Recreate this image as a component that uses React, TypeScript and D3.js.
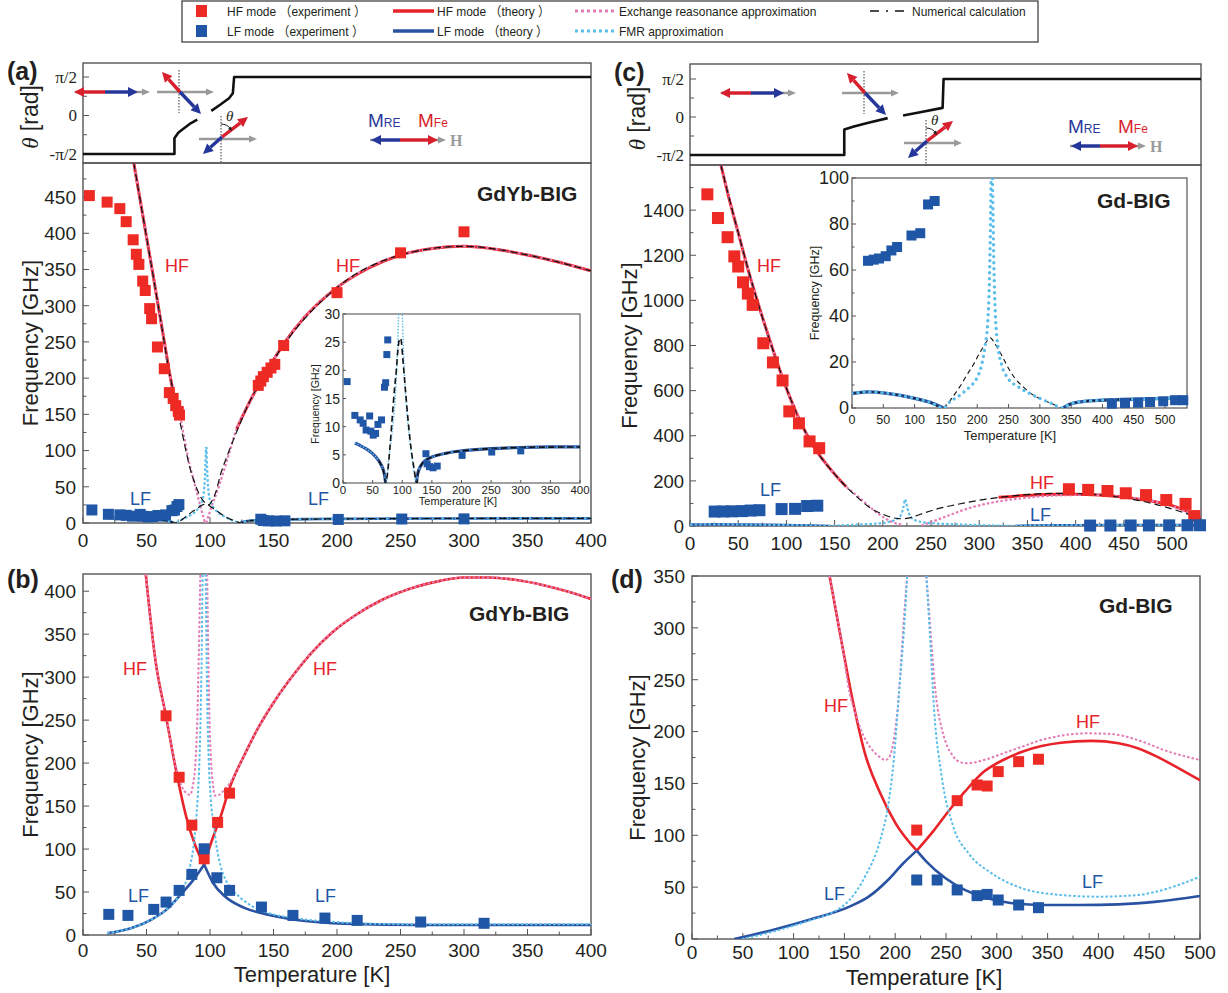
import React from 'react';
import * as d3 from 'd3';

type P = [number, number];

// ================= legend =================
const legendRow1 = ['HF mode （experiment ）', 'HF mode （theory ）', 'Exchange reasonance approximation', 'Numerical calculation'];
const legendRow2 = ['LF mode （experiment ）', 'LF mode （theory ）', 'FMR approximation'];

// ================= ticks =================
const thetaTicks = [-1, 0, 1];
const thetaMinor = [-0.5, 0.5];
const thetaLabels = ['-π/2', '0', 'π/2'];
const t400 = [0, 50, 100, 150, 200, 250, 300, 350, 400];
const t400m = [25, 75, 125, 175, 225, 275, 325, 375];
const t500 = [0, 50, 100, 150, 200, 250, 300, 350, 400, 450, 500];
const t500m = [25, 75, 125, 175, 225, 275, 325, 375, 425, 475, 525];
const aYTicks = [0, 50, 100, 150, 200, 250, 300, 350, 400, 450];
const aYMinor = [25, 75, 125, 175, 225, 275, 325, 375, 425, 475];
const bYTicks = [0, 50, 100, 150, 200, 250, 300, 350, 400];
const bYMinor = [25, 75, 125, 175, 225, 275, 325, 375];
const cYTicks = [0, 200, 400, 600, 800, 1000, 1200, 1400];
const cYMinor = [100, 300, 500, 700, 900, 1100, 1300, 1500];
const dYTicks = [0, 50, 100, 150, 200, 250, 300, 350];
const dYMinor = [25, 75, 125, 175, 225, 275, 325];
const aiYTicks = [0, 5, 10, 15, 20, 25, 30];
const ciYTicks = [0, 20, 40, 60, 80, 100];
const ciYMinor = [10, 30, 50, 70, 90];

// ================= (a) GdYb-BIG =================
const aThetaLow: P[] = [[0, -1], [72, -1], [72, -0.59], [75, -0.45], [78, -0.37], [84, -0.22], [90, -0.11]];
const aThetaHigh: P[] = [[101, 0.12], [108, 0.28], [115, 0.45], [118, 0.58], [119, 1], [400, 1]];

const aHfExp: P[] = [[5, 452], [19, 443], [29, 434], [34, 416], [39.5, 391], [42, 371], [44, 357], [47, 334], [49, 321], [52.5, 296], [54, 282], [58.6, 243], [64, 213], [68, 180], [71, 172], [73, 162], [75, 154], [76, 149], [138, 190], [140, 196], [142, 202], [145, 208], [148, 214], [151, 219], [158, 245], [200, 318], [250, 373], [300, 402]];
const aLfExp: P[] = [[7, 18], [20, 12], [29, 11.2], [34, 10.6], [39, 9.4], [45, 11.9], [47, 9.2], [51, 8.5], [55, 8.8], [59, 10.4], [65, 11.2], [70, 17], [72, 17.8], [74, 22.8], [75.5, 25.4], [140, 5.2], [142, 3.4], [146, 2.9], [152, 2.7], [159, 3.0], [201, 4.9], [251, 5.5], [300, 5.7]];
const aHfTheoryL: P[] = [[40, 497], [45, 446], [50, 395], [55, 344], [60, 292], [65, 240], [69, 199], [73, 165], [76, 145]];
const aHfTheoryR: P[] = [[121, 130], [130, 163], [140, 196], [150, 225], [160, 252], [175, 285], [200, 325], [225, 352], [250, 370], [275, 379], [300, 382], [325, 378], [350, 370], [375, 360], [400, 348]];
const aExchL: P[] = [[40, 497], [50, 395], [60, 292], [69, 199], [73, 170], [76.3, 149], [80, 115], [84, 80], [87, 60], [89.5, 43], [92, 26], [94, 13], [95.3, 5], [96, 0]];
const aExchR: P[] = [[97, 0], [98.5, 8], [100.5, 19], [102.6, 29], [108, 56], [113, 84], [121, 130], [130, 163], [140, 196], [150, 225], [160, 252], [175, 285], [200, 325], [250, 370], [300, 382], [350, 370], [400, 348]];
const aNumHf: P[] = [[40, 497], [50, 395], [60, 292], [69, 199], [72.4, 172], [76.3, 140], [80, 108], [84.2, 76], [88, 55], [92, 38], [95.5, 29], [98.7, 25], [102, 32], [105, 45], [107.8, 64], [114, 95], [121, 126], [130, 163], [140, 196], [150, 225], [200, 325], [250, 370], [300, 382], [350, 370], [400, 348]];
const aLfTheoryL: P[] = [[20, 7.1], [30, 6.6], [40, 6.0], [50, 5.2], [60, 4.0], [65, 3.1], [68, 2.3], [70, 1.5], [72, 0]];
const aLfTheoryR: P[] = [[124, 0], [125, 1.0], [127, 2.0], [130, 2.8], [135, 3.6], [140, 4.1], [150, 4.6], [175, 5.3], [200, 5.7], [250, 6.1], [300, 6.3], [350, 6.4], [400, 6.4]];
const aFmrL: P[] = [[20, 7.1], [30, 6.6], [40, 6.0], [50, 5.2], [60, 4.0], [65, 3.1], [68, 2.3], [70, 1.5], [72, 0], [78, 5], [84, 10], [88, 15], [91, 21], [93, 27], [94.5, 35], [95.5, 50], [96.3, 75], [96.8, 105]];
const aFmrR: P[] = [[97.2, 105], [97.7, 75], [98.5, 50], [99.5, 35], [101, 27], [103, 21], [106, 15], [110, 10], [116, 5], [124, 0], [125, 1.0], [127, 2.0], [130, 2.8], [140, 4.1], [150, 4.6], [175, 5.3], [200, 5.7], [250, 6.1], [300, 6.3], [400, 6.4]];
const aNumLf: P[] = [[60, 4.0], [65, 3.1], [68, 2.3], [72, 0], [76, 2.5], [79, 6], [83, 11.5], [87, 16.8], [90, 20], [93, 24], [96, 25.7], [98, 25.4], [101, 22], [105, 17], [110, 11], [115, 6], [120, 2.5], [124.5, 0], [127, 2.0], [130, 2.8], [140, 4.1], [150, 4.6], [175, 5.3], [200, 5.7], [250, 6.1], [300, 6.3], [400, 6.4]];

// ================= (b) GdYb-BIG =================
const bHfExp: P[] = [[65.4, 255], [75.7, 183.5], [85.7, 127.8], [95.4, 88.7], [106, 131], [115.4, 165]];
const bLfExp: P[] = [[20.3, 24], [35.4, 22.8], [55.7, 29.8], [65.4, 38.3], [75.7, 51.9], [85.7, 70.5], [95.4, 100.3], [105.4, 66.6], [115.4, 51.9], [140.5, 32.5], [165.3, 22.8], [190.5, 19.7], [215.9, 17], [265.9, 15.1], [315.8, 13.6]];
const bHfTheoryL: P[] = [[49.4, 420], [57, 320], [65.4, 254], [73.6, 189], [81.2, 138], [88.7, 103], [95.4, 82]];
const bHfTheoryR: P[] = [[95.4, 82], [100.8, 107], [108.4, 138], [115.9, 173], [126.6, 208], [138.7, 243], [150.8, 272], [165.9, 303], [181, 330], [196.2, 352], [214.4, 372], [235.6, 390], [259.8, 404], [281, 412], [299, 416], [320, 416], [341.5, 413], [362.7, 407], [380.9, 400], [400, 391]];
const bLfTheoryL: P[] = [[19, 2], [30, 5], [38.8, 8.5], [53.9, 18], [66, 29.8], [78.1, 49], [87.2, 64.7], [95.4, 82]];
const bLfTheoryR: P[] = [[95.4, 82], [102.3, 60.8], [111.4, 45.3], [126.6, 31.8], [144.7, 24], [175, 16.3], [205.3, 13.2], [265.8, 11.6], [400, 11.6]];
const bExchL: P[] = [[49.4, 420], [57, 320], [65.4, 254], [70, 218], [74, 190], [78, 172], [81.5, 165], [84.2, 163], [86.5, 174], [88.7, 204], [90, 250], [91.1, 320], [92.4, 420]];
const bExchR: P[] = [[97.8, 420], [98.7, 320], [99.6, 250], [100.8, 204], [102.3, 175], [104, 162], [107, 163], [111.4, 169], [117.5, 181], [126.6, 208], [138.7, 243], [150.8, 272], [165.9, 303], [181, 330], [196.2, 352], [214.4, 372], [235.6, 390], [259.8, 404], [281, 412], [299, 416], [320, 416], [341.5, 413], [362.7, 407], [380.9, 400], [400, 391]];
const bFmrL: P[] = [[19, 2], [38.8, 8.5], [53.9, 18], [66, 29.8], [74, 42], [78, 52], [82, 66], [85, 85], [87, 103], [88.7, 127], [90.3, 160], [91.7, 204], [92.7, 260], [93.5, 330], [94.2, 420]];
const bFmrR: P[] = [[96.6, 420], [97.3, 330], [98, 260], [99, 204], [100.5, 160], [103, 127], [105.5, 100], [108.4, 80], [112, 65], [117.5, 53], [125, 42], [132.6, 34], [144.7, 26], [160, 21], [175, 18], [200, 15], [235, 12.8], [300, 12.4], [400, 12.4]];

// ================= (c) Gd-BIG =================
const cThetaLow: P[] = [[0, -1], [160, -1], [160, -0.33], [170, -0.25], [185, -0.15], [205, -0.03]];
const cThetaHigh: P[] = [[221, 0.04], [240, 0.13], [262, 0.24], [263, 1], [530, 1]];

const cHfExp: P[] = [[18, 1470], [29, 1365], [39, 1280], [46, 1195], [50, 1150], [55, 1080], [60, 1030], [65, 980], [76, 810], [86, 725], [96, 645], [103, 508], [113, 455], [124, 375], [134, 345], [393, 163], [413, 160], [433, 155], [452, 145], [473, 137], [494, 115], [514, 98], [523, 44]];
const cLfExp: P[] = [[25.6, 64], [34.6, 64.5], [43.1, 65], [53.8, 66], [62.9, 68.5], [72, 70], [95, 75], [109, 76], [121.5, 88.5], [132, 90], [415, 1.9], [436, 2.2], [457, 2.3], [476, 2.6], [497, 2.9], [516, 3.4], [529, 3.4]];
const cHfTheoryL: P[] = [[32, 1600], [40, 1460], [50, 1300], [60, 1140], [70, 995], [80, 860], [90, 730], [100, 610], [110, 505], [120, 415], [130, 340], [140, 282], [150, 230], [162, 174]];
const cHfTheoryR: P[] = [[320, 127], [350, 136], [380, 141], [400, 141], [425, 137], [450, 128], [475, 113], [500, 90], [515, 66], [530, 35]];
const cExchL: P[] = [[32, 1600], [50, 1300], [70, 995], [90, 730], [110, 505], [130, 340], [150, 230], [162, 174], [175, 128], [190, 72], [204, 30], [212, 14], [220, 5]];
const cExchR: P[] = [[240, 2], [255, 25], [274, 56], [290, 80], [309, 100], [344, 123], [378, 135], [414, 138], [448, 130], [483, 108], [510, 72], [530, 33]];
const cNumHf: P[] = [[32, 1600], [50, 1300], [70, 995], [90, 730], [110, 505], [130, 340], [150, 230], [162, 174], [175, 122], [187, 80], [200, 52], [211, 36], [220, 32], [230, 38], [239, 52], [255, 74], [274, 93], [309, 120], [344, 137], [378, 145], [414, 141], [448, 126], [483, 96], [510, 62], [530, 33]];
const cLfL: P[] = [[0, 6.3], [25, 7], [50, 6.6], [75, 5.6], [100, 4.2], [125, 2.4], [146, 0]];
const cLfR: P[] = [[337, 0], [345, 1.3], [355, 2.2], [375, 3], [400, 3.4], [450, 3.8], [500, 4.2], [535, 4.5]];
const cFmrL: P[] = [[0, 6.3], [25, 7], [50, 6.6], [75, 5.6], [100, 4.2], [125, 2.4], [146, 0], [156, 2.6], [172, 5.5], [188, 9.2], [199, 12.8], [207, 18.7], [212, 26], [217.5, 40.5], [220, 62], [222, 99], [222.6, 118]];
const cFmrR: P[] = [[223.4, 118], [224.4, 99], [226.6, 62], [229, 40.5], [233.5, 26], [239, 18.7], [249.5, 12.8], [265.5, 9.2], [289.5, 5.5], [316, 2.3], [337, 0], [345, 1.3], [355, 2.2], [375, 3], [400, 3.4], [450, 3.8], [500, 4.2], [535, 4.5]];
const cNumLf: P[] = [[0, 6.3], [25, 7], [50, 6.6], [75, 5.6], [100, 4.2], [125, 2.4], [146, 0], [160, 4.5], [172, 9.2], [185, 15], [193.5, 18.7], [203, 23.5], [210, 26.7], [217, 29.6], [221, 30.5], [226, 29], [231, 26.7], [240, 22.5], [247, 18.7], [260, 13], [273.5, 9.2], [290, 5.5], [300, 4.1], [320, 1.8], [337, 0], [345, 1.3], [355, 2.2], [375, 3], [400, 3.4], [450, 3.8], [500, 4.2], [535, 4.5]];

// ================= (d) Gd-BIG =================
const dHfExp: P[] = [[221.2, 105], [261, 133.4], [280.6, 148.5], [290.5, 147.5], [301.4, 161.4], [321.5, 171], [341, 173.3]];
const dLfExp: P[] = [[221.2, 56.9], [241.3, 56.9], [261, 47.3], [280.6, 41.8], [290.5, 43], [301.4, 37.6], [321.5, 32.8], [341, 30.2]];
const dHfL: P[] = [[135.4, 350], [147.5, 285], [158.8, 227], [170.2, 179], [185.3, 140.5], [200.4, 111.5], [221.2, 85.2]];
const dHfR: P[] = [[221.2, 85.2], [238.3, 105], [253.4, 124.4], [268.5, 142], [287.4, 161.4], [306.3, 172.6], [325, 180.6], [344, 186], [363, 189.3], [393.3, 191], [419.8, 188.7], [438.7, 183.9], [457.6, 175.8], [476.5, 166], [500, 153]];
const dExchL: P[] = [[135.4, 350], [147.5, 285], [155, 238], [160, 220], [166.4, 201.5], [172, 190], [177.7, 182], [184, 176], [190.2, 172.6], [194, 175], [196.6, 182], [199.5, 198], [202.3, 221], [205, 255], [208, 301], [211.8, 350]];
const dExchR: P[] = [[230.7, 350], [234.5, 301], [238, 255], [242, 221], [246, 202], [249.6, 190], [257.2, 176], [263, 171], [270.4, 169.4], [287.4, 172.6], [306.3, 179], [325, 185.5], [344, 191.9], [363, 196], [389.5, 198.3], [412, 197.7], [438.7, 191.9], [465, 182], [500, 172.6]];
const dFmrL: P[] = [[49.2, 0], [79.4, 7], [117.2, 18.3], [139.9, 26.4], [155, 37.6], [170.2, 60], [185.3, 95.5], [192.9, 127.6], [198.6, 172.6], [204.2, 243], [209.9, 317], [211.8, 350]];
const dFmrR: P[] = [[230.7, 350], [233.7, 301], [238.3, 221], [245.8, 156.5], [257.2, 108.3], [272.3, 82.6], [295, 63.3], [325, 48.9], [363, 42.4], [400.9, 40.8], [438.7, 42.4], [468.9, 48.9], [500, 60.1]];
const dLfL: P[] = [[41.6, 0], [79.4, 8.7], [117.2, 19], [155, 31.2], [173.9, 40.8], [192.9, 56.9], [208, 73], [221.2, 85.2]];
const dLfR: P[] = [[221.2, 85.2], [230.7, 74.6], [249.6, 58.5], [268.5, 47.3], [287.4, 40.2], [306.3, 36], [344, 32.8], [382, 32.8], [419.8, 33.4], [457.6, 36], [500, 41.5]];

// ================= styles =================
const SANS = "'Liberation Sans', Arial, Helvetica, 'Noto Sans CJK JP', sans-serif";
const SERIF = "'Liberation Serif', 'Times New Roman', serif";
const RED = '#E8232A';
const RED_SQ = '#EE2A24';
const BLUE = '#2A52A2';
const BLUE_SQ = '#1F56A6';
const PINK = '#E47DB7';
const CYAN = '#5BBEEA';
const FRAME = '#555555';
const TXT = '#231F20';
const GRAY = '#9A9A9A';

function Curve({ d, sx, sy, color, w, dash, cap, linear }: any) {
  const gen = d3.line<P>().x((p) => sx(p[0])).y((p) => sy(p[1])).curve(linear ? d3.curveLinear : d3.curveMonotoneX);
  return <path d={gen(d) || ''} fill="none" stroke={color} strokeWidth={w} strokeDasharray={dash} strokeLinecap={cap || 'butt'} strokeLinejoin="round" />;
}

function Squares({ d, sx, sy, color, s }: any) {
  return (
    <g>
      {d.map((p: P, i: number) => (
        <rect key={i} x={sx(p[0]) - s / 2} y={sy(p[1]) - s / 2} width={s} height={s} fill={color} />
      ))}
    </g>
  );
}

function Axes({ sx, sy, xMajor, xMinor, yMajor, yMinor, xFont, yFont, xDy, yDx, maj, mn, sw, yFmt }: any) {
  const [x0, x1] = sx.range();
  const [yb, yt] = sy.range();
  const M = maj ?? 6;
  const m = mn ?? 3.5;
  return (
    <g>
      <rect x={x0} y={yt} width={x1 - x0} height={yb - yt} fill="none" stroke={FRAME} strokeWidth={sw ?? 1.4} />
      {xMajor.map((t: number) => (
        <line key={'xM' + t} x1={sx(t)} x2={sx(t)} y1={yb} y2={yb - M} stroke={FRAME} strokeWidth={1} />
      ))}
      {(xMinor || []).filter((t: number) => sx(t) < x1).map((t: number) => (
        <line key={'xm' + t} x1={sx(t)} x2={sx(t)} y1={yb} y2={yb - m} stroke={FRAME} strokeWidth={1} />
      ))}
      {yMajor.map((t: number) => (
        <line key={'yM' + t} x1={x0} x2={x0 + M} y1={sy(t)} y2={sy(t)} stroke={FRAME} strokeWidth={1} />
      ))}
      {(yMinor || []).filter((t: number) => sy(t) > yt).map((t: number) => (
        <line key={'ym' + t} x1={x0} x2={x0 + m} y1={sy(t)} y2={sy(t)} stroke={FRAME} strokeWidth={1} />
      ))}
      {xMajor.map((t: number) => (
        <text key={'xl' + t} x={sx(t)} y={yb + xDy} textAnchor="middle" fontSize={xFont} fontFamily={SANS} fill={TXT}>{t}</text>
      ))}
      {yMajor.map((t: number) => (
        <text key={'yl' + t} x={x0 - yDx} y={sy(t)} dy="0.36em" textAnchor="end" fontSize={yFont} fontFamily={SANS} fill={TXT}>{yFmt ? yFmt(t) : t}</text>
      ))}
    </g>
  );
}

function Arrow({ x1, y1, x2, y2, color, w = 3, hl = 9, hw = 8 }: any) {
  const ddx = x2 - x1, ddy = y2 - y1;
  const L = Math.hypot(ddx, ddy);
  const ux = ddx / L, uy = ddy / L;
  const bx = x2 - ux * hl, by = y2 - uy * hl;
  const px = -uy, py = ux;
  return (
    <g>
      <line x1={x1} y1={y1} x2={bx} y2={by} stroke={color} strokeWidth={w} />
      <polygon points={`${x2},${y2} ${bx + (px * hw) / 2},${by + (py * hw) / 2} ${bx - (px * hw) / 2},${by - (py * hw) / 2}`} fill={color} />
    </g>
  );
}

function MPair({ cx, cy, rx, ry, bx, by }: any) {
  return (
    <g>
      <Arrow x1={cx} y1={cy} x2={rx} y2={ry} color="#D71F2D" w={3.4} hl={10} hw={10} />
      <Arrow x1={cx} y1={cy} x2={bx} y2={by} color="#25369A" w={3.4} hl={10} hw={10} />
    </g>
  );
}

function ThetaPanel({ sx, sTh, top, bottom, low, high, label }: any) {
  const [x0, x1] = sx.range();
  return (
    <g>
      <rect x={x0} y={top} width={x1 - x0} height={bottom - top} fill="#fff" stroke={FRAME} strokeWidth={1.4} />
      {thetaTicks.map((t) => (
        <line key={'t' + t} x1={x0} x2={x0 + 6} y1={sTh(t)} y2={sTh(t)} stroke={FRAME} />
      ))}
      {thetaMinor.map((t) => (
        <line key={'tm' + t} x1={x0} x2={x0 + 4} y1={sTh(t)} y2={sTh(t)} stroke={FRAME} />
      ))}
      {thetaTicks.map((t, i) => (
        <text key={'tl' + t} x={x0 - 6} y={sTh(t)} dy="0.35em" textAnchor="end" fontSize={17} fontFamily={SERIF} fill={TXT}>{thetaLabels[i]}</text>
      ))}
      <Curve d={low} sx={sx} sy={sTh} color="#111" w={2.6} linear />
      <Curve d={high} sx={sx} sy={sTh} color="#111" w={2.6} linear />
      <text transform={`translate(${x0 - 45},${(top + bottom) / 2 + 4}) rotate(-90)`} textAnchor="middle" fontSize={23} fill={TXT}>
        <tspan fontFamily={SERIF} fontStyle="italic">θ</tspan>
        <tspan fontFamily={SANS}> [rad]</tspan>
      </text>
      <text x={x0 - 76} y={top + 17} fontSize={25} fontWeight="bold" fontFamily={SANS} fill={TXT}>{label}</text>
    </g>
  );
}

function Illustration({ g1, g2, g3, g4 }: any) {
  return (
    <g>
      <Arrow x1={g1[0]} y1={g1[1]} x2={g1[0] + 75} y2={g1[1]} color={GRAY} w={2.6} hl={8} hw={7} />
      <MPair cx={g1[0] + 30} cy={g1[1]} rx={g1[0] - 1} ry={g1[1]} bx={g1[0] + 63} by={g1[1]} />
      <Arrow x1={g2[0]} y1={g2[1]} x2={g2[0] + 57} y2={g2[1]} color={GRAY} w={2.6} hl={8} hw={7} />
      <line x1={g2[0] + 22} x2={g2[0] + 22} y1={g2[1] - 22} y2={g2[1] + 21} stroke="#333" strokeWidth={1} strokeDasharray="1.5 1.5" />
      <MPair cx={g2[0] + 23} cy={g2[1]} rx={g2[0] + 5} ry={g2[1] - 20} bx={g2[0] + 44} by={g2[1] + 22} />
      <Arrow x1={g3[0]} y1={g3[1]} x2={g3[0] + 58} y2={g3[1]} color={GRAY} w={2.6} hl={8} hw={7} />
      <line x1={g3[0] + 22} x2={g3[0] + 22} y1={g3[1] - 23} y2={g3[1] + 23} stroke="#333" strokeWidth={1} strokeDasharray="1.5 1.5" />
      <MPair cx={g3[0] + 23} cy={g3[1] - 2} rx={g3[0] + 49} ry={g3[1] - 22} bx={g3[0] + 4} by={g3[1] + 15} />
      <path d={`M ${g3[0] + 22} ${g3[1] - 15} A 13 13 0 0 1 ${g3[0] + 32} ${g3[1] - 10}`} fill="none" stroke="#222" strokeWidth={1} />
      <polygon points={`${g3[0] + 33},${g3[1] - 8} ${g3[0] + 29},${g3[1] - 10} ${g3[0] + 32},${g3[1] - 12.5}`} fill="#222" />
      <text x={g3[0] + 27} y={g3[1] - 18} fontSize={15} fontStyle="italic" fontFamily={SERIF} fill={TXT}>θ</text>
      <text x={g4[0]} y={g4[1] - 13} fontSize={19} fontFamily={SANS} fill="#2B3A9C">M<tspan fontSize={12}>RE</tspan></text>
      <text x={g4[0] + 50} y={g4[1] - 13} fontSize={19} fontFamily={SANS} fill="#D71F2D">M<tspan fontSize={12}>Fe</tspan></text>
      <Arrow x1={g4[0] + 2} y1={g4[1]} x2={g4[0] + 78} y2={g4[1]} color={GRAY} w={2.6} hl={8} hw={7} />
      <MPair cx={g4[0] + 32} cy={g4[1]} rx={g4[0] + 70} ry={g4[1]} bx={g4[0] + 3} by={g4[1]} />
      <text x={g4[0] + 82} y={g4[1] + 6} fontSize={16} fontWeight="bold" fontFamily={SERIF} fill={GRAY}>H</text>
    </g>
  );
}

function Lbl({ x, y, t, color, size = 18, bold = false, anchor = 'start' }: any) {
  return <text x={x} y={y} fontSize={size} fontWeight={bold ? 'bold' : 'normal'} fontFamily={SANS} fill={color} textAnchor={anchor}>{t}</text>;
}

export default function App() {
  const ax = d3.scaleLinear().domain([0, 400]).range([83, 591]);
  const ay = d3.scaleLinear().domain([0, 497]).range([523, 163]);
  const aTh = d3.scaleLinear().domain([-1, 1]).range([154, 77]);
  const aix = d3.scaleLinear().domain([0, 400]).range([343, 580]);
  const aiy = d3.scaleLinear().domain([0, 30]).range([483, 314]);
  const bx = d3.scaleLinear().domain([0, 400]).range([83, 591]);
  const by = d3.scaleLinear().domain([0, 420]).range([935, 574]);
  const cx = d3.scaleLinear().domain([0, 530]).range([690, 1201]);
  const cy = d3.scaleLinear().domain([0, 1600]).range([526, 165]);
  const cTh = d3.scaleLinear().domain([-1, 1]).range([155, 79]);
  const cix = d3.scaleLinear().domain([0, 535]).range([852, 1187]);
  const ciy = d3.scaleLinear().domain([0, 100]).range([408, 178]);
  const dx = d3.scaleLinear().domain([0, 500]).range([692, 1200]);
  const dy = d3.scaleLinear().domain([0, 350]).range([939, 576]);

  const clip = (id: string, sx: any, sy: any) => {
    const [x0, x1] = sx.range();
    const [yb, yt] = sy.range();
    return (
      <clipPath id={id}>
        <rect x={x0} y={yt} width={x1 - x0} height={yb - yt} />
      </clipPath>
    );
  };

  const DOT = '2.6 2';
  const NUM = '7 4';

  const legendCols = [196, 393, 575, 870];
  const legendText = [227, 437, 619, 912];

  return (
    <svg width={1228} height={993} style={{ position: 'absolute', left: 0, top: 0, background: '#fff' }} fontFamily={SANS}>
      <defs>
        {clip('ca', ax, ay)}
        {clip('cai', aix, aiy)}
        {clip('cb', bx, by)}
        {clip('cc', cx, cy)}
        {clip('cci', cix, ciy)}
        {clip('cd', dx, dy)}
      </defs>
      <rect x={0} y={0} width={1228} height={993} fill="#fff" />

      {/* legend */}
      <g>
        <rect x={182} y={1} width={856} height={41} fill="#fff" stroke="#444" strokeWidth={1.3} />
        <rect x={legendCols[0]} y={5} width={11} height={12} fill={RED_SQ} />
        <rect x={legendCols[0]} y={25} width={11} height={12} fill={BLUE_SQ} />
        <line x1={legendCols[1]} x2={legendCols[1] + 41} y1={11} y2={11} stroke={RED} strokeWidth={3.5} />
        <line x1={legendCols[1]} x2={legendCols[1] + 41} y1={31} y2={31} stroke={BLUE} strokeWidth={3.5} />
        <line x1={legendCols[2]} x2={legendCols[2] + 39} y1={11} y2={11} stroke={PINK} strokeWidth={3} strokeDasharray="3 3" />
        <line x1={legendCols[2]} x2={legendCols[2] + 39} y1={31} y2={31} stroke={CYAN} strokeWidth={3} strokeDasharray="3 3" />
        <line x1={legendCols[3]} x2={legendCols[3] + 39} y1={11} y2={11} stroke="#111" strokeWidth={1.5} strokeDasharray="9 7 2 7" />
        {legendRow1.map((t, i) => (
          <text key={'l1' + i} transform={`translate(${legendText[i]},16) scale(0.92,1)`} fontSize={13} fill={TXT}>{t}</text>
        ))}
        {legendRow2.map((t, i) => (
          <text key={'l2' + i} transform={`translate(${legendText[i]},36) scale(0.92,1)`} fontSize={13} fill={TXT}>{t}</text>
        ))}
      </g>

      {/* (a) */}
      <ThetaPanel sx={ax} sTh={aTh} top={63} bottom={163} low={aThetaLow} high={aThetaHigh} label="(a)" />
      <Illustration g1={[75, 92]} g2={[157, 92]} g3={[199, 139]} g4={[368, 140]} />
      <g>
        <Axes sx={ax} sy={ay} xMajor={t400} xMinor={t400m} yMajor={aYTicks} yMinor={aYMinor} xFont={19} yFont={19} xDy={24} yDx={7} />
        <g clipPath="url(#ca)">
          <Curve d={aHfTheoryL} sx={ax} sy={ay} color={RED} w={3} />
          <Curve d={aHfTheoryR} sx={ax} sy={ay} color={RED} w={3} />
          <Curve d={aLfTheoryL} sx={ax} sy={ay} color={BLUE} w={2.6} />
          <Curve d={aLfTheoryR} sx={ax} sy={ay} color={BLUE} w={2.6} />
          <Curve d={aExchL} sx={ax} sy={ay} color={PINK} w={2.2} dash={DOT} />
          <Curve d={aExchR} sx={ax} sy={ay} color={PINK} w={2.2} dash={DOT} />
          <Curve d={aFmrL} sx={ax} sy={ay} color={CYAN} w={2.2} dash={DOT} />
          <Curve d={aFmrR} sx={ax} sy={ay} color={CYAN} w={2.2} dash={DOT} />
          <Curve d={aNumHf} sx={ax} sy={ay} color="#111" w={1.2} dash={NUM} />
          <Curve d={aNumLf} sx={ax} sy={ay} color="#111" w={1.2} dash={NUM} />
        </g>
        <Squares d={aHfExp} sx={ax} sy={ay} color={RED_SQ} s={11} />
        <Squares d={aLfExp} sx={ax} sy={ay} color={BLUE_SQ} s={11} />
        <Lbl x={165} y={272} t="HF" color={RED} />
        <Lbl x={336} y={272} t="HF" color={RED} />
        <Lbl x={130} y={505} t="LF" color={BLUE_SQ} />
        <Lbl x={308} y={505} t="LF" color={BLUE_SQ} />
        <Lbl x={477} y={201} t="GdYb-BIG" color={TXT} size={21} bold />
        <text transform={`translate(38,${(163 + 523) / 2}) rotate(-90)`} textAnchor="middle" fontSize={22} fill={TXT}>Frequency [GHz]</text>

        <rect x={343} y={314} width={237} height={169} fill="#fff" />
        <Axes sx={aix} sy={aiy} xMajor={t400} yMajor={aiYTicks} xFont={11.5} yFont={14} xDy={11} yDx={3} maj={3} mn={2} sw={1.1} />
        <g clipPath="url(#cai)">
          <Curve d={aLfTheoryL} sx={aix} sy={aiy} color={BLUE} w={3.2} />
          <Curve d={aLfTheoryR} sx={aix} sy={aiy} color={BLUE} w={3.2} />
          <Curve d={aFmrL} sx={aix} sy={aiy} color={CYAN} w={1.4} dash="1.5 1.5" />
          <Curve d={aFmrR} sx={aix} sy={aiy} color={CYAN} w={1.4} dash="1.5 1.5" />
          <Curve d={aNumLf} sx={aix} sy={aiy} color="#111" w={1.6} dash="6 3.5" />
        </g>
        <Squares d={aLfExp} sx={aix} sy={aiy} color={BLUE_SQ} s={7} />
        <text x={458} y={505} textAnchor="middle" fontSize={11} fill={TXT}>Temperature [K]</text>
        <text transform={`translate(319,404) rotate(-90)`} textAnchor="middle" fontSize={10.5} fill={TXT}>Frequency [GHz]</text>
      </g>

      {/* (b) */}
      <g>
        <Axes sx={bx} sy={by} xMajor={t400} xMinor={t400m} yMajor={bYTicks} yMinor={bYMinor} xFont={19} yFont={19} xDy={22} yDx={7} />
        <g clipPath="url(#cb)">
          <Curve d={bHfTheoryL} sx={bx} sy={by} color={RED} w={2.6} />
          <Curve d={bHfTheoryR} sx={bx} sy={by} color={RED} w={2.6} />
          <Curve d={bLfTheoryL} sx={bx} sy={by} color={BLUE} w={2.6} />
          <Curve d={bLfTheoryR} sx={bx} sy={by} color={BLUE} w={2.6} />
          <Curve d={bExchL} sx={bx} sy={by} color={PINK} w={2} dash={DOT} />
          <Curve d={bExchR} sx={bx} sy={by} color={PINK} w={2} dash={DOT} />
          <Curve d={bFmrL} sx={bx} sy={by} color={CYAN} w={2} dash={DOT} />
          <Curve d={bFmrR} sx={bx} sy={by} color={CYAN} w={2} dash={DOT} />
        </g>
        <Squares d={bHfExp} sx={bx} sy={by} color={RED_SQ} s={11} />
        <Squares d={bLfExp} sx={bx} sy={by} color={BLUE_SQ} s={11} />
        <Lbl x={123} y={675} t="HF" color={RED} />
        <Lbl x={313} y={675} t="HF" color={RED} />
        <Lbl x={128} y={902} t="LF" color={BLUE_SQ} />
        <Lbl x={315} y={902} t="LF" color={BLUE_SQ} />
        <Lbl x={469} y={621} t="GdYb-BIG" color={TXT} size={21} bold />
        <text transform={`translate(38,${(574 + 935) / 2}) rotate(-90)`} textAnchor="middle" fontSize={22} fill={TXT}>Frequency [GHz]</text>
        <text x={312} y={982} textAnchor="middle" fontSize={22} fill={TXT}>Temperature [K]</text>
        <text x={7} y={588} fontSize={25} fontWeight="bold" fill={TXT}>(b)</text>
      </g>

      {/* (c) */}
      <ThetaPanel sx={cx} sTh={cTh} top={64} bottom={165} low={cThetaLow} high={cThetaHigh} label="(c)" />
      <Illustration g1={[721, 93]} g2={[842, 93]} g3={[904, 143]} g4={[1068, 146]} />
      <g>
        <Axes sx={cx} sy={cy} xMajor={t500} xMinor={t500m} yMajor={cYTicks} yMinor={cYMinor} xFont={19} yFont={18.5} xDy={24} yDx={6} />
        <g clipPath="url(#cc)">
          <Curve d={cHfTheoryL} sx={cx} sy={cy} color={RED} w={3} />
          <Curve d={cHfTheoryR} sx={cx} sy={cy} color={RED} w={3} />
          <Curve d={cLfL} sx={cx} sy={cy} color={BLUE} w={2.6} />
          <Curve d={cLfR} sx={cx} sy={cy} color={BLUE} w={2.6} />
          <Curve d={cExchL} sx={cx} sy={cy} color={PINK} w={2.2} dash={DOT} />
          <Curve d={cExchR} sx={cx} sy={cy} color={PINK} w={2.2} dash={DOT} />
          <Curve d={cFmrL} sx={cx} sy={cy} color={CYAN} w={2.2} dash={DOT} />
          <Curve d={cFmrR} sx={cx} sy={cy} color={CYAN} w={2.2} dash={DOT} />
          <Curve d={cNumHf} sx={cx} sy={cy} color="#111" w={1.2} dash={NUM} />
        </g>
        <Squares d={cHfExp} sx={cx} sy={cy} color={RED_SQ} s={12} />
        <Squares d={cLfExp} sx={cx} sy={cy} color={BLUE_SQ} s={12} />
        <Lbl x={757} y={272} t="HF" color={RED} />
        <Lbl x={760} y={496} t="LF" color={BLUE_SQ} />
        <Lbl x={1030} y={489} t="HF" color={RED} />
        <Lbl x={1030} y={521} t="LF" color={BLUE_SQ} />
        <text transform={`translate(637,${(165 + 526) / 2}) rotate(-90)`} textAnchor="middle" fontSize={22} fill={TXT}>Frequency [GHz]</text>

        <rect x={852} y={178} width={335} height={230} fill="#fff" />
        <Axes sx={cix} sy={ciy} xMajor={t500} yMajor={ciYTicks} yMinor={ciYMinor} xFont={12.5} yFont={18} xDy={15.5} yDx={3} maj={4} mn={2.5} sw={1.2} />
        <g clipPath="url(#cci)">
          <Curve d={cLfL} sx={cix} sy={ciy} color={BLUE} w={3.4} />
          <Curve d={cLfR} sx={cix} sy={ciy} color={BLUE} w={3.4} />
          <Curve d={cNumLf} sx={cix} sy={ciy} color="#111" w={1.1} dash="5 3.5" />
          <Curve d={cFmrL} sx={cix} sy={ciy} color={CYAN} w={3.4} dash="0 6" cap="round" />
          <Curve d={cFmrR} sx={cix} sy={ciy} color={CYAN} w={3.4} dash="0 6" cap="round" />
        </g>
        <Squares d={cLfExp} sx={cix} sy={ciy} color={BLUE_SQ} s={10} />
        <text x={1010} y={440} textAnchor="middle" fontSize={13} fill={TXT}>Temperature [K]</text>
        <text transform={`translate(819,293) rotate(-90)`} textAnchor="middle" fontSize={12.5} fill={TXT}>Frequency [GHz]</text>
        <Lbl x={1097} y={208} t="Gd-BIG" color={TXT} size={21} bold />
      </g>

      {/* (d) */}
      <g>
        <Axes sx={dx} sy={dy} xMajor={t500} xMinor={t500m} yMajor={dYTicks} yMinor={dYMinor} xFont={19} yFont={19} xDy={20} yDx={7} />
        <g clipPath="url(#cd)">
          <Curve d={dHfL} sx={dx} sy={dy} color={RED} w={2.6} />
          <Curve d={dHfR} sx={dx} sy={dy} color={RED} w={2.6} />
          <Curve d={dLfL} sx={dx} sy={dy} color={BLUE} w={2.6} />
          <Curve d={dLfR} sx={dx} sy={dy} color={BLUE} w={2.6} />
          <Curve d={dExchL} sx={dx} sy={dy} color={PINK} w={2} dash={DOT} />
          <Curve d={dExchR} sx={dx} sy={dy} color={PINK} w={2} dash={DOT} />
          <Curve d={dFmrL} sx={dx} sy={dy} color={CYAN} w={2} dash={DOT} />
          <Curve d={dFmrR} sx={dx} sy={dy} color={CYAN} w={2} dash={DOT} />
        </g>
        <Squares d={dHfExp} sx={dx} sy={dy} color={RED_SQ} s={11} />
        <Squares d={dLfExp} sx={dx} sy={dy} color={BLUE_SQ} s={11} />
        <Lbl x={824} y={712} t="HF" color={RED} />
        <Lbl x={1076} y={728} t="HF" color={RED} />
        <Lbl x={824} y={900} t="LF" color={BLUE_SQ} />
        <Lbl x={1082} y={888} t="LF" color={BLUE_SQ} />
        <Lbl x={1099} y={613} t="Gd-BIG" color={TXT} size={21} bold />
        <text transform={`translate(645,${(576 + 939) / 2}) rotate(-90)`} textAnchor="middle" fontSize={22} fill={TXT}>Frequency [GHz]</text>
        <text x={924} y={985} textAnchor="middle" fontSize={22} fill={TXT}>Temperature [K]</text>
        <text x={611} y={588} fontSize={25} fontWeight="bold" fill={TXT}>(d)</text>
      </g>
    </svg>
  );
}
